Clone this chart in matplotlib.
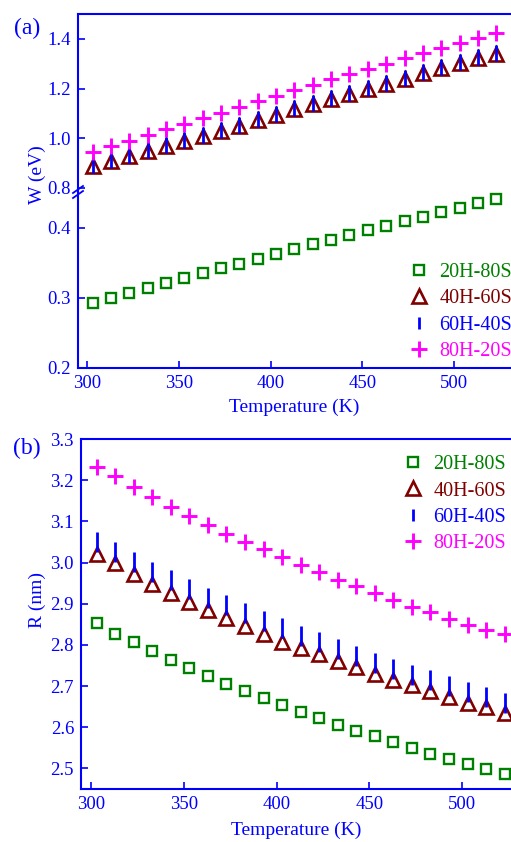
import matplotlib
matplotlib.use("Agg")
import matplotlib.pyplot as plt

plt.rcParams['font.family'] = ['Liberation Serif', 'DejaVu Serif']

# ---------------- data ----------------
temperature = [303, 313, 323, 333, 343, 353, 363, 373, 383, 393, 403, 413,
               423, 433, 443, 453, 463, 473, 483, 493, 503, 513, 523]
labels = ['20H-80S', '40H-60S', '60H-40S', '80H-20S']

W_20H = [0.292, 0.300, 0.307, 0.314, 0.321, 0.328, 0.335, 0.342, 0.349, 0.355, 0.363, 0.370,
         0.377, 0.383, 0.390, 0.397, 0.403, 0.410, 0.416, 0.422, 0.428, 0.435, 0.441]
W_40H = [0.888, 0.908, 0.928, 0.948, 0.968, 0.988, 1.008, 1.029, 1.050, 1.073, 1.095, 1.116,
         1.137, 1.158, 1.179, 1.199, 1.220, 1.240, 1.261, 1.281, 1.301, 1.321, 1.340]
W_60H = [0.892, 0.912, 0.932, 0.952, 0.972, 0.992, 1.012, 1.033, 1.054, 1.077, 1.099, 1.120,
         1.141, 1.162, 1.183, 1.203, 1.224, 1.244, 1.265, 1.285, 1.305, 1.325, 1.344]
W_80H = [0.944, 0.968, 0.990, 1.013, 1.036, 1.058, 1.080, 1.102, 1.125, 1.148, 1.171, 1.193,
         1.215, 1.237, 1.258, 1.279, 1.300, 1.321, 1.342, 1.363, 1.383, 1.403, 1.423]

R_20H = [2.852, 2.826, 2.806, 2.784, 2.763, 2.743, 2.724, 2.706, 2.688, 2.670, 2.654, 2.638,
         2.622, 2.606, 2.592, 2.578, 2.564, 2.550, 2.536, 2.524, 2.511, 2.499, 2.487]
R_40H = [3.020, 2.998, 2.972, 2.949, 2.927, 2.905, 2.884, 2.865, 2.846, 2.826, 2.806, 2.792,
         2.778, 2.761, 2.747, 2.730, 2.715, 2.702, 2.689, 2.673, 2.660, 2.649, 2.635]
R_60H = [3.050, 3.026, 3.001, 2.978, 2.957, 2.935, 2.915, 2.896, 2.877, 2.857, 2.840, 2.822,
         2.806, 2.789, 2.773, 2.757, 2.742, 2.728, 2.714, 2.699, 2.686, 2.673, 2.660]
R_80H = [3.232, 3.209, 3.183, 3.159, 3.136, 3.113, 3.091, 3.070, 3.050, 3.032, 3.014, 2.994,
         2.976, 2.957, 2.942, 2.927, 2.909, 2.893, 2.880, 2.862, 2.848, 2.836, 2.826]

x_ticks = [300, 350, 400, 450, 500]
w_ticks_low = [0.2, 0.3, 0.4]
w_ticks_high = [0.8, 1.0, 1.2, 1.4]
r_ticks = [2.5, 2.6, 2.7, 2.8, 2.9, 3.0, 3.1, 3.2, 3.3]

# ---------------- styles ----------------
BLUE = '#0000FF'
GREEN = '#008000'
DRED = '#800000'
MAG = '#FF00FF'
colors = [GREEN, DRED, BLUE, MAG]
TICK_FS = 13.5
LAB_FS = 14
LEG_FS = 14.5

W_PX, H_PX = 511, 842
fig = plt.figure(figsize=(W_PX / 100, H_PX / 100), dpi=100)


def rect(left, top, right, bottom):
    return [left / W_PX, 1 - bottom / H_PX, (right - left) / W_PX, (bottom - top) / H_PX]


def style(ax):
    for s in ax.spines.values():
        s.set_color(BLUE)
        s.set_linewidth(1.5)
    ax.spines['right'].set_visible(False)
    ax.tick_params(direction='in', length=5, width=1.2, color=BLUE,
                   labelcolor=BLUE, labelsize=TICK_FS, pad=5)
    ax.tick_params(axis='y', right=False)
    ax.tick_params(axis='x', top=False)


def draw_series(ax, ys, sizes):
    hs = []
    h, = ax.plot(temperature, ys[0], ls='none', marker='s', ms=sizes[0], mfc='none',
                 mec=GREEN, mew=1.7, label=labels[0])
    hs.append(h)
    h, = ax.plot(temperature, ys[1], ls='none', marker='^', ms=sizes[1], mfc='none',
                 mec=DRED, mew=1.9, label=labels[1])
    hs.append(h)
    h, = ax.plot(temperature, ys[2], ls='none', marker='|', ms=sizes[2], mec=BLUE,
                 mew=2.0, label=labels[2])
    hs.append(h)
    h, = ax.plot(temperature, ys[3], ls='none', marker='+', ms=sizes[3], mec=MAG,
                 mew=2.1, label=labels[3])
    hs.append(h)
    return hs


def add_legend(ax, handles, x0, y0, small_bar):
    leg = ax.legend(handles=handles, loc='upper left', bbox_to_anchor=(x0, y0),
                    frameon=False, fontsize=LEG_FS, borderpad=0, borderaxespad=0,
                    handlelength=1.0, handletextpad=0.5, labelspacing=0.36,
                    numpoints=1)
    for t, c in zip(leg.get_texts(), colors):
        t.set_color(c)
    leg.legend_handles[2].set_markersize(small_bar)
    return leg


# ---------------- panel (a): broken axis ----------------
ax_hi = fig.add_axes(rect(78, 14, 511, 192))
ax_lo = fig.add_axes(rect(78, 192, 511, 368))
for ax in (ax_hi, ax_lo):
    style(ax)
    ax.set_xlim(295.1, 531)
    ax.set_xticks(x_ticks)

ax_hi.spines['bottom'].set_visible(False)
ax_hi.tick_params(axis='x', bottom=False, labelbottom=False)
ax_lo.spines['top'].set_visible(False)

ax_hi.set_ylim(0.7835, 1.5)
ax_hi.set_yticks(w_ticks_high)
ax_hi.set_yticklabels(['0.8', '1.0', '1.2', '1.4'])
ax_lo.set_ylim(0.2, 0.451)
ax_lo.set_yticks(w_ticks_low)
ax_lo.set_yticklabels(['0.2', '0.3', '0.4'])

draw_series(ax_hi, [W_20H, W_40H, W_60H, W_80H], [6.5, 9.5, 11.5, 11])
hs_a = draw_series(ax_lo, [W_20H, W_40H, W_60H, W_80H], [6.5, 9.5, 11.5, 11])
add_legend(ax_lo, hs_a, 0.765, 0.597, 8.5)

# break marks on the left spine
bx = 78 / W_PX
by = 1 - 192 / H_PX
for dy in (-2.5, 2.5):
    fig.add_artist(plt.Line2D([bx - 5 / W_PX, bx + 5 / W_PX],
                              [by + (dy - 3.5) / H_PX, by + (dy + 3.5) / H_PX],
                              color=BLUE, lw=1.3))

ax_lo.set_xlabel('Temperature (K)', color=BLUE, fontsize=LAB_FS, labelpad=5)
fig.text(37 / W_PX, 1 - 175 / H_PX, 'W (eV)', rotation=90, color=BLUE,
         fontsize=LAB_FS, ha='center', va='center')
fig.text(27 / W_PX, 1 - 28 / H_PX, '(a)', color=BLUE, fontsize=17,
         ha='center', va='center')

# ---------------- panel (b) ----------------
ax_b = fig.add_axes(rect(81, 439, 511, 789))
style(ax_b)
ax_b.set_xlim(294.6, 526.4)
ax_b.set_xticks(x_ticks)
ax_b.set_ylim(2.45, 3.3)
ax_b.set_yticks(r_ticks)
hs_b = draw_series(ax_b, [R_20H, R_40H, R_60H, R_80H], [6.5, 9.5, 14.5, 11])
add_legend(ax_b, hs_b, 0.7495, 0.954, 8.5)
ax_b.set_xlabel('Temperature (K)', color=BLUE, fontsize=LAB_FS, labelpad=6)
fig.text(37 / W_PX, 1 - 600 / H_PX, 'R (nm)', rotation=90, color=BLUE,
         fontsize=LAB_FS, ha='center', va='center')
fig.text(27 / W_PX, 1 - 448 / H_PX, '(b)', color=BLUE, fontsize=17,
         ha='center', va='center')

fig.savefig('out.png', dpi=100)
